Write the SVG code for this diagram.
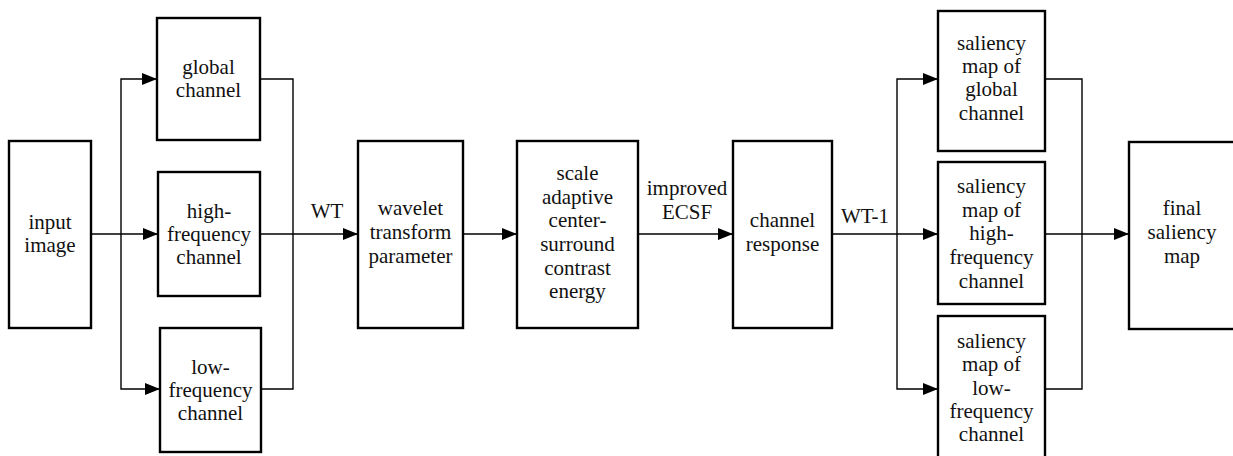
<svg xmlns="http://www.w3.org/2000/svg" width="1233" height="456" viewBox="0 0 1233 456">
<style>
.box{fill:#fff;stroke:#000;stroke-width:2.4}
.c{fill:none;stroke:#000;stroke-width:1.4}
text{font-family:"Liberation Serif",serif;font-size:21px;fill:#111;text-anchor:middle}
</style>
<defs>
<marker id="ah" viewBox="0 0 15 12" refX="15" refY="6" markerWidth="15" markerHeight="12" markerUnits="userSpaceOnUse" orient="auto">
<path d="M0,0 L15,6 L0,12 Z" fill="#000"/>
</marker>
</defs>
<rect width="1233" height="456" fill="#fff"/>
<g id="connectors">
<path class="c" d="M91,234 H158" marker-end="url(#ah)"/>
<path class="c" d="M121,234 V79 H157" marker-end="url(#ah)"/>
<path class="c" d="M121,234 V389 H160" marker-end="url(#ah)"/>
<path class="c" d="M260,79 H293 V389 H261"/>
<path class="c" d="M260,234 H358" marker-end="url(#ah)"/>
<path class="c" d="M463,234 H517" marker-end="url(#ah)"/>
<path class="c" d="M638,234 H733" marker-end="url(#ah)"/>
<path class="c" d="M832,234 H938" marker-end="url(#ah)"/>
<path class="c" d="M897,234 V79 H938" marker-end="url(#ah)"/>
<path class="c" d="M897,234 V389 H938" marker-end="url(#ah)"/>
<path class="c" d="M1045,79 H1082 V389 H1045"/>
<path class="c" d="M1045,234 H1129" marker-end="url(#ah)"/>
<text font-family="Liberation Serif" x="327" y="218">WT</text>
<text font-family="Liberation Serif" x="687" y="195">improved</text>
<text font-family="Liberation Serif" x="687" y="219">ECSF</text>
<text font-family="Liberation Serif" x="865" y="223">WT-1</text>
</g>
<g id="input-image" font-family="Liberation Serif">
<rect class="box" x="9" y="141" width="82" height="187"/>
<text x="50" y="229">input</text>
<text x="50" y="252">image</text>
</g>
<g id="global-channel">
<rect class="box" x="157" y="18" width="103" height="122"/>
<text x="208.5" y="74">global</text>
<text x="208.5" y="97">channel</text>
</g>
<g id="high-frequency-channel">
<rect class="box" x="158" y="172" width="102" height="124"/>
<text x="209" y="218">high-</text>
<text x="209" y="241">frequency</text>
<text x="209" y="264">channel</text>
</g>
<g id="low-frequency-channel">
<rect class="box" x="160" y="328" width="101" height="124"/>
<text x="210.5" y="374">low-</text>
<text x="210.5" y="397">frequency</text>
<text x="210.5" y="420">channel</text>
</g>
<g id="wavelet-transform-parameter">
<rect class="box" x="358" y="141" width="105" height="187"/>
<text x="410.5" y="215">wavelet</text>
<text x="410.5" y="239">transform</text>
<text x="410.5" y="263">parameter</text>
</g>
<g id="scale-adaptive-cscE">
<rect class="box" x="517" y="141" width="121" height="187"/>
<text x="577.5" y="180">scale</text>
<text x="577.5" y="204">adaptive</text>
<text x="577.5" y="227">center-</text>
<text x="577.5" y="251">surround</text>
<text x="577.5" y="275">contrast</text>
<text x="577.5" y="298">energy</text>
</g>
<g id="channel-response">
<rect class="box" x="733" y="141" width="99" height="187"/>
<text x="782.5" y="227">channel</text>
<text x="782.5" y="251">response</text>
</g>
<g id="saliency-global">
<rect class="box" x="938" y="11" width="107" height="140"/>
<text x="991.5" y="50">saliency</text>
<text x="991.5" y="73">map of</text>
<text x="991.5" y="96">global</text>
<text x="991.5" y="120">channel</text>
</g>
<g id="saliency-high">
<rect class="box" x="938" y="162" width="107" height="142"/>
<text x="991.5" y="193">saliency</text>
<text x="991.5" y="217">map of</text>
<text x="991.5" y="240">high-</text>
<text x="991.5" y="264">frequency</text>
<text x="991.5" y="288">channel</text>
</g>
<g id="saliency-low">
<rect class="box" x="938" y="316" width="107" height="150"/>
<text x="991.5" y="348">saliency</text>
<text x="991.5" y="371">map of</text>
<text x="991.5" y="395">low-</text>
<text x="991.5" y="418">frequency</text>
<text x="991.5" y="441">channel</text>
</g>
<g id="final-saliency-map">
<rect class="box" x="1129" y="142" width="120" height="187"/>
<text x="1182" y="215">final</text>
<text x="1182" y="239">saliency</text>
<text x="1182" y="263">map</text>
</g>
</svg>
